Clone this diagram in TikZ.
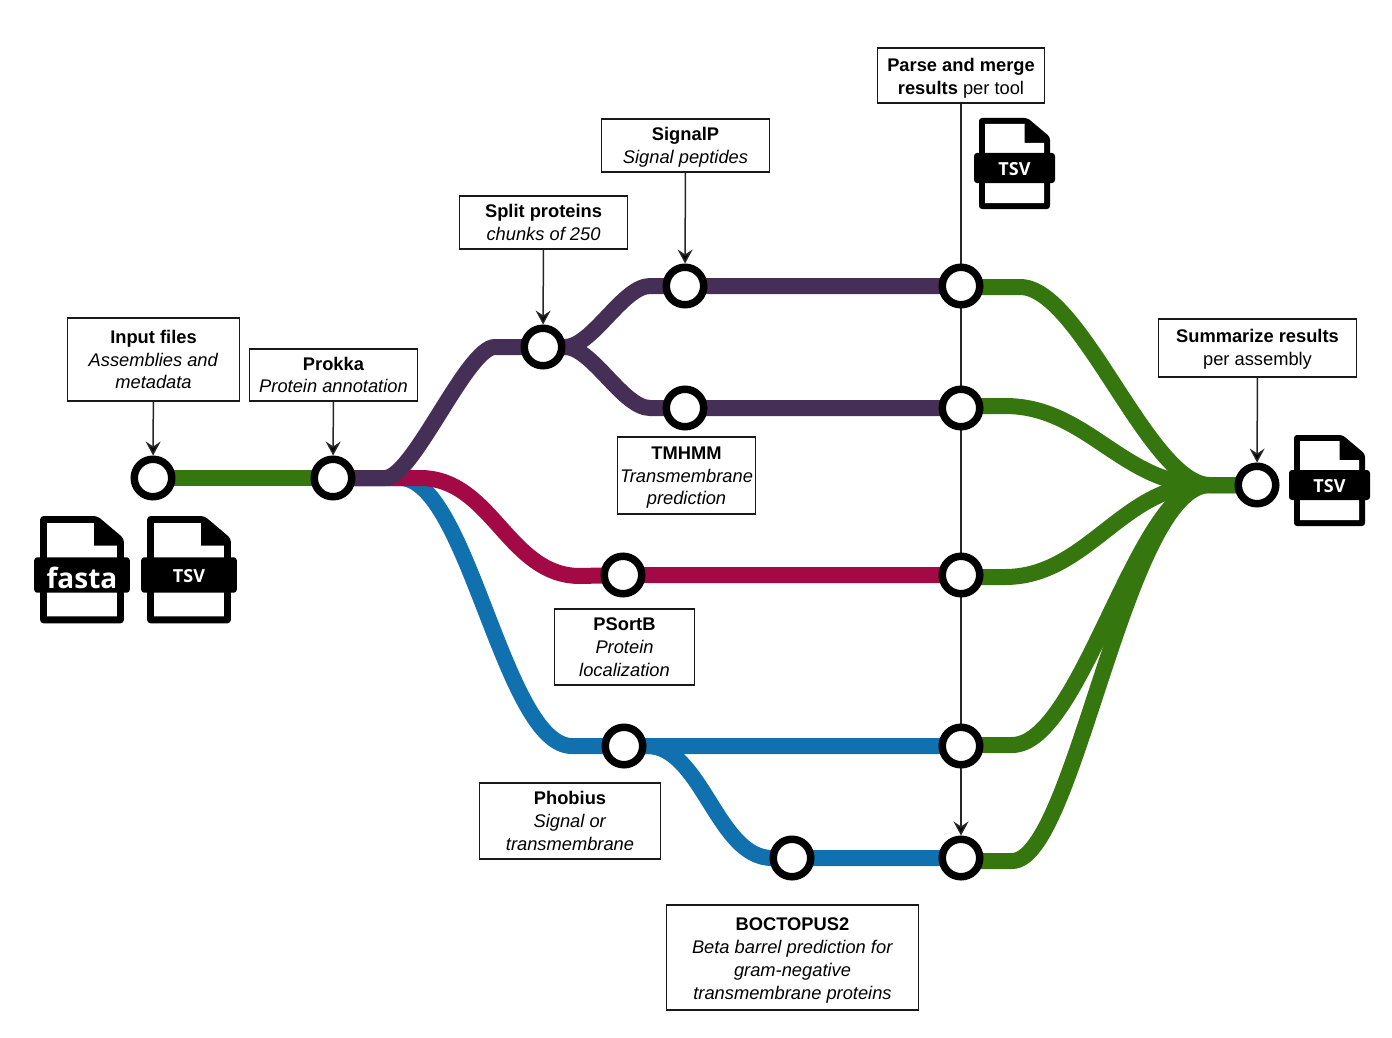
\documentclass[tikz,border=0pt]{standalone}
\usepackage{fontspec}
\setmainfont{Liberation Sans}
\newfontfamily\iconfont{Open Sans}
\usetikzlibrary{arrows.meta,backgrounds}
\definecolor{cgreen}{HTML}{35760F}
\definecolor{cpurple}{HTML}{452F57}
\definecolor{cred}{HTML}{A30A45}
\definecolor{cblue}{HTML}{1071AE}
\tikzset{
  x=1pt,y=-1pt,
  station/.style={circle,draw=black,fill=white,line width=7.5pt,minimum size=37.5pt,inner sep=0pt},
  labelbox/.style={draw=black!90,fill=white,line width=1.2pt,align=center,inner sep=0pt,font=\fontsize{18.3}{22.8}\selectfont},
  track/.style={line width=16pt},
  pointer/.style={line width=1.5pt,draw=black!85,-{Stealth[length=14pt,width=15pt,inset=5pt,fill=black]}},
}
% first-line strut: moves the text block of a box down
\newcommand{\lowertext}[1]{\rule{0pt}{#1}}
% centre x, top y, scale, name, text and font
\newcommand{\fileicon}[6]{%
  \begin{scope}[shift={(#1,#2)},scale=#3]
    \fill[black,rounded corners=3pt*#3] (-35.5,0) -- (13,0) -- (35.5,19) -- (35.5,91) -- (-35.5,91) -- cycle;
    \fill[white] (-29.5,6) -- (10,6) -- (10,25) -- (29.5,25) -- (29.5,85) -- (-29.5,85) -- cycle;
    \node[fill=black,rounded corners=3pt,minimum width=81pt*#3,minimum height=30pt*#3,inner sep=0pt,text=white,font=#6] (#4) at (0,50) {#5};
  \end{scope}}
\begin{document}
\begin{tikzpicture}
\useasboundingbox (0,0) rectangle (1392,1038);

\node[station] (input) at (153,478) {};
\node[station] (prokka) at (333,478) {};
\node[station] (split) at (543,347) {};
\node[station] (signalp) at (685,286) {};
\node[station] (tmhmm) at (685,408) {};
\node[station] (psortb) at (623,575) {};
\node[station] (phobius) at (624,746) {};
\node[station] (boct) at (792,858) {};
\node[station] (m1) at (961,286) {};
\node[station] (m2) at (961,408) {};
\node[station] (m3) at (961,575) {};
\node[station] (m4) at (961,746) {};
\node[station] (m5) at (961,858) {};
\node[station] (sum) at (1257,485) {};
\coordinate (g1) at (961,287);
\coordinate (g2) at (961,406);
\coordinate (g3) at (961,577);
\coordinate (g4) at (961,745);
\coordinate (g5) at (961,861);

\node[labelbox,minimum width=172.5pt,minimum height=83pt] (Linput) at (153.5,359.5) {\textbf{Input files}\\\textit{Assemblies and}\\\textit{metadata}};
\node[labelbox,minimum width=168.5pt,minimum height=52pt] (Lprokka) at (333.5,375) {\textbf{Prokka}\\\textit{Protein annotation}};
\node[labelbox,minimum width=168.5pt,minimum height=53pt] (Lsplit) at (543.5,222.5) {\textbf{Split proteins}\\\textit{chunks of 250}};
\node[labelbox,minimum width=168.5pt,minimum height=53pt] (Lsignalp) at (685.5,145.5) {\lowertext{16pt}\textbf{SignalP}\\\textit{Signal peptides}};
\node[labelbox,minimum width=167.5pt,minimum height=55pt] (Lparse) at (961,75.5) {\lowertext{18pt}\textbf{Parse and merge}\\\textbf{results} per tool};
\node[labelbox,minimum width=138.5pt,minimum height=77pt] (Ltmhmm) at (686.5,475.5) {\lowertext{17pt}\textbf{TMHMM}\\\textit{Transmembrane}\\\textit{prediction}};
\node[labelbox,minimum width=140.5pt,minimum height=76pt] (Lpsortb) at (624.5,647) {\textbf{PSortB}\\\textit{Protein}\\\textit{localization}};
\node[labelbox,minimum width=181.5pt,minimum height=76pt] (Lphobius) at (570,821) {\textbf{Phobius}\\\textit{Signal or}\\\textit{transmembrane}};
\node[labelbox,minimum width=252.5pt,minimum height=105pt] (Lboct) at (792.5,957.5) {\lowertext{19pt}\textbf{BOCTOPUS2}\\\textit{Beta barrel prediction for}\\\textit{gram-negative}\\\textit{transmembrane proteins}};
\node[labelbox,minimum width=198.5pt,minimum height=58pt] (Lsum) at (1257.5,348) {\lowertext{15pt}\textbf{Summarize results}\\per assembly};

\fileicon{82}{516}{1.18}{ifasta}{\raisebox{-3pt}[\height][\depth]{fasta}}{\iconfont\bfseries\fontsize{28}{28}\selectfont}
\fileicon{189}{516}{1.18}{itsvin}{\raisebox{-1pt}[\height][\depth]{TSV}}{\iconfont\bfseries\fontsize{18}{18}\selectfont}
\fileicon{1014.5}{118}{1}{itsvmid}{\raisebox{-1pt}[\height][\depth]{TSV}}{\iconfont\bfseries\fontsize{18}{18}\selectfont}
\fileicon{1329.5}{435}{1}{itsvout}{\raisebox{-1pt}[\height][\depth]{TSV}}{\iconfont\bfseries\fontsize{18}{18}\selectfont}

\begin{scope}[on background layer]
  % blue
  \draw[track,cblue] (prokka.center) -- (400,478) .. controls (468,478) and (504,746) .. (572,746) -- (phobius.center) -- (m4.center);
  \draw[track,cblue] (phobius.center) -- (647,746) .. controls (702,746) and (717,858) .. (772,858) -- (boct.center) -- (m5.center);
  % red
  \draw[track,cred] (prokka.center) -- (420,478) .. controls (492,478) and (508,576) .. (580,576) -- (psortb.center) -- (m3.center);
  % purple
  \draw[track,cpurple] (prokka.center) -- (385,478) .. controls (413,478) and (467,347) .. (495,347) -- (split.center);
  \draw[track,cpurple] (split.center) -- (565,347) .. controls (592,347) and (623,286) .. (650,286) -- (signalp.center) -- (m1.center);
  \draw[track,cpurple] (split.center) -- (565,347) .. controls (592,347) and (623,408) .. (650,408) -- (tmhmm.center) -- (m2.center);
  % green
  \draw[track,cgreen] (input.center) -- (prokka.center);
  \draw[track,cgreen] (g1) -- (1020,287) .. controls (1081,287) and (1149,485) .. (1210,485) -- (sum.center);
  \draw[track,cgreen] (g2) -- (1005,406) .. controls (1087,406) and (1123,485) .. (1205,485) -- (sum.center);
  \draw[track,cgreen] (g3) -- (1005,577) .. controls (1087,577) and (1123,485) .. (1205,485) -- (sum.center);
  \draw[track,cgreen] (g4) -- (1012,745) .. controls (1082,745) and (1137,485) .. (1207,485) -- (sum.center);
  \draw[track,cgreen] (g5) -- (1012,861) .. controls (1075,861) and (1125,485) .. (1210,485) -- (sum.center);
  % pointers
  \draw[pointer] (Lparse) -- (m5);
\end{scope}
\draw[pointer] (Linput) -- (input);
\draw[pointer] (Lprokka) -- (prokka);
\draw[pointer] (Lsplit) -- (split);
\draw[pointer] (Lsignalp) -- (signalp);
\draw[pointer] (Lsum) -- (sum);
\end{tikzpicture}
\end{document}
